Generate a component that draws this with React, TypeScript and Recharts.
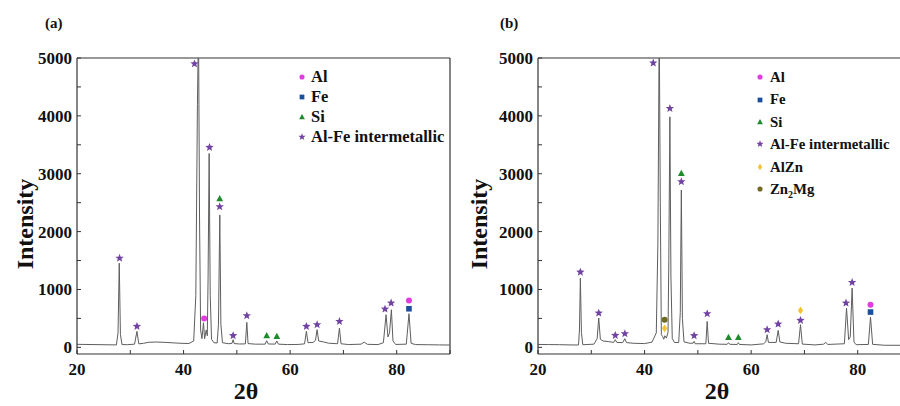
import React from 'react';
import { ComposedChart, Line, Scatter, XAxis, YAxis, ReferenceLine, Legend } from 'recharts';

// ---------- data ----------
const xTicks = [20, 30, 40, 50, 60, 70, 80, 90];
const yTicks = [0, 500, 1000, 1500, 2000, 2500, 3000, 3500, 4000, 4500, 5000];

const patternA_2theta = [20, 21.5, 23, 24.5, 26, 27.4, 27.7, 27.93, 28.15, 28.45, 29.5, 30.8, 31.25, 31.6, 32.5, 33.5, 35, 36.5, 38, 39.5, 41, 41.9, 42.3, 42.6, 42.8, 43.0, 43.2, 43.45, 43.74, 43.95, 44.25, 44.45, 44.6, 44.8, 45.0, 45.25, 45.7, 46.3, 46.55, 46.8, 47.0, 47.3, 48.5, 49.1, 49.3, 49.5, 50.5, 51.6, 51.87, 52.1, 53.5, 55.3, 55.6, 55.9, 57.2, 57.5, 57.8, 59.5, 61.5, 62.7, 63.05, 63.35, 64.3, 64.75, 65.06, 65.35, 66.2, 67.2, 68.9, 69.25, 69.55, 71, 73.3, 73.9, 74.5, 76.5, 77.5, 78.0, 78.35, 78.65, 79.0, 79.3, 79.8, 81.8, 82.3, 82.7, 83.5, 86, 88, 90];
const patternA_intensity = [52, 50, 48, 46, 44, 42, 250, 1455, 220, 48, 46, 55, 276, 60, 70, 88, 92, 86, 78, 70, 66, 110, 900, 4200, 5600, 2200, 300, 150, 425, 150, 300, 200, 1200, 3350, 900, 140, 80, 75, 400, 2288, 400, 80, 62, 70, 133, 65, 58, 60, 431, 65, 55, 55, 115, 58, 56, 110, 55, 48, 50, 60, 276, 80, 85, 120, 305, 110, 95, 72, 62, 334, 62, 48, 55, 90, 52, 48, 80, 564, 180, 250, 650, 110, 50, 55, 581, 70, 48, 45, 42, 40];

const patternB_2theta = [20, 22, 24, 26, 27.6, 27.78, 27.95, 28.15, 28.4, 30.5, 31.1, 31.4, 31.7, 32.2, 33.2, 34.2, 34.5, 34.8, 35.9, 36.3, 36.6, 38, 40, 41.4, 42.2, 42.5, 42.75, 42.95, 43.15, 43.4, 43.6, 43.8, 44.1, 44.4, 44.55, 44.75, 44.95, 45.2, 45.6, 46.4, 46.7, 46.9, 47.1, 47.4, 48.5, 49.1, 49.3, 49.5, 51.5, 51.75, 52.0, 54, 55.5, 55.75, 56.0, 57.4, 57.6, 57.8, 60, 62.3, 62.75, 63.0, 63.25, 64.7, 65.07, 65.4, 66.5, 68.9, 69.26, 69.6, 72, 73.6, 74.0, 74.4, 77.5, 77.9, 78.3, 78.6, 78.95, 79.3, 79.7, 82.0, 82.4, 82.8, 85, 90];
const patternB_intensity = [50, 48, 46, 42, 40, 300, 1197, 260, 45, 55, 150, 507, 140, 110, 100, 85, 133, 85, 82, 150, 82, 70, 65, 90, 250, 1800, 5600, 2500, 220, 185, 140, 200, 160, 260, 1500, 3983, 1200, 150, 85, 82, 600, 2719, 500, 95, 70, 72, 103, 62, 62, 448, 70, 55, 52, 81, 52, 50, 81, 50, 42, 60, 95, 219, 85, 85, 293, 92, 70, 62, 391, 56, 42, 55, 85, 50, 62, 680, 133, 180, 1024, 92, 46, 50, 524, 52, 36, 35];

// marker positions [2theta, intensity]
const alA: [number, number][] = [[43.87, 500], [82.3, 810]];
const feA: [number, number][] = [[82.3, 667]];
const siA: [number, number][] = [[46.78, 2569], [55.6, 202], [57.5, 190]];
const alFeA: [number, number][] = [[27.99, 1541], [31.25, 362], [42.05, 4900], [44.87, 3455], [46.78, 2431], [49.3, 202], [51.87, 547], [63.05, 362], [65.06, 391], [69.25, 448], [77.8, 662], [78.95, 766]];

const alB: [number, number][] = [[82.4, 736]];
const feB: [number, number][] = [[82.4, 610]];
const siB: [number, number][] = [[46.9, 3007], [55.75, 172], [57.6, 172]];
const alFeB: [number, number][] = [[27.95, 1300], [31.4, 593], [34.5, 207], [36.3, 236], [41.63, 4914], [44.75, 4128], [46.9, 2862], [49.3, 202], [51.75, 581], [63.0, 305], [65.07, 403], [69.26, 466], [77.8, 766], [78.95, 1121]];
const alZnB: [number, number][] = [[43.76, 328], [69.26, 638]];
const zn2MgB: [number, number][] = [[43.76, 478]];

const legendA = ['Al', 'Fe', 'Si', 'Al-Fe intermetallic'];
const legendB = ['Al', 'Fe', 'Si', 'Al-Fe intermetallic', 'AlZn', 'Zn2Mg'];

// ---------- styles ----------
const FONT = "'Liberation Serif','Times New Roman',Times,serif";
type Kind = 'circle' | 'square' | 'triangle' | 'star' | 'diamond';
const phaseStyle: Record<string, { kind: Kind; color: string }> = {
  Al: { kind: 'circle', color: '#e23ce0' },
  Fe: { kind: 'square', color: '#1b4f9e' },
  Si: { kind: 'triangle', color: '#1f8a2c' },
  'Al-Fe intermetallic': { kind: 'star', color: '#7042a2' },
  AlZn: { kind: 'diamond', color: '#f2c234' },
  Zn2Mg: { kind: 'circle', color: '#6f6b22' },
};

const toPts = (xs: number[], ys: number[]) => xs.map((x, i) => ({ x, y: ys[i] }));
const toPairs = (a: [number, number][]) => a.map(([x, y]) => ({ x, y }));

function starPath(cx: number, cy: number, R: number, r: number) {
  let d = '';
  for (let i = 0; i < 10; i++) {
    const a = -Math.PI / 2 + (i * Math.PI) / 5;
    const rad = i % 2 === 0 ? R : r;
    d += (i ? 'L' : 'M') + (cx + rad * Math.cos(a)).toFixed(2) + ',' + (cy + rad * Math.sin(a)).toFixed(2);
  }
  return d + 'Z';
}

function Marker({ kind, color, cx, cy, s = 1 }: { kind: Kind; color: string; cx: number; cy: number; s?: number }) {
  switch (kind) {
    case 'circle':
      return <circle cx={cx} cy={cy} r={3 * s} fill={color} />;
    case 'square':
      return <rect x={cx - 2.8 * s} y={cy - 2.8 * s} width={5.6 * s} height={5.6 * s} fill={color} />;
    case 'triangle':
      return <path d={`M${cx},${cy - 3.6 * s}L${cx + 3.4 * s},${cy + 2.6 * s}L${cx - 3.4 * s},${cy + 2.6 * s}Z`} fill={color} />;
    case 'diamond':
      return <path d={`M${cx},${cy - 3.8 * s}L${cx + 2.6 * s},${cy}L${cx},${cy + 3.8 * s}L${cx - 2.6 * s},${cy}Z`} fill={color} />;
    default:
      return <path d={starPath(cx, cy, 4.4 * s, 1.9 * s)} fill={color} />;
  }
}

function LegendBox({ items, rowH, gap, fontSize }: { items: string[]; rowH: number; gap: number; fontSize: number }) {
  return (
    <div style={{ fontFamily: FONT, fontWeight: 'bold', fontSize, color: '#111' }}>
      {items.map((it) => {
        const st = phaseStyle[it];
        return (
          <div key={it} style={{ display: 'flex', alignItems: 'center', height: rowH, whiteSpace: 'nowrap' }}>
            <svg width={12} height={12} style={{ marginRight: gap, flex: 'none' }}>
              <Marker kind={st.kind} color={st.color} cx={6} cy={6} s={0.85} />
            </svg>
            <span style={{ lineHeight: rowH + 'px' }}>
              {it === 'Zn2Mg' ? (
                <>
                  Zn<sub style={{ fontSize: 10, lineHeight: 0 }}>2</sub>Mg
                </>
              ) : (
                it
              )}
            </span>
          </div>
        );
      })}
    </div>
  );
}

const XTick = (p: any) => {
  const v = p.payload.value;
  const label = v % 20 === 0 && v < 90 ? String(v) : '';
  return (
    <text x={p.x} y={p.y} dy="0.72em" textAnchor="middle" fontFamily={FONT} fontWeight="bold" fontSize={17} fill="#111">
      {label}
    </text>
  );
};

const YTick = (p: any) => {
  const v = p.payload.value;
  const label = v % 1000 === 0 ? String(v) : '';
  return (
    <text x={p.x} y={p.y} dy="0.35em" textAnchor="end" fontFamily={FONT} fontWeight="bold" fontSize={17} fill="#111">
      {label}
    </text>
  );
};

type Series = { name: string; data: [number, number][] };

function Panel(props: {
  width: number;
  yAxisWidth: number;
  rightMargin: number;
  line: { x: number; y: number }[];
  series: Series[];
  legendItems: string[];
  legendLeft: number;
  legendTop: number;
  legendRow: number;
  legendGap: number;
  legendFont: number;
  letter: string;
  letterX: number;
  yTitleX: number;
  xTitleX: number;
}) {
  return (
    <ComposedChart
      width={props.width}
      height={406}
      margin={{ top: 58, right: props.rightMargin, bottom: 0, left: 0 }}
    >
      <XAxis
        type="number"
        dataKey="x"
        domain={[20, 90]}
        allowDataOverflow
        ticks={xTicks}
        interval={0}
        height={52}
        tickSize={-4}
        tickMargin={13}
        tick={<XTick />}
        axisLine={{ stroke: '#333', strokeWidth: 1.2 }}
        tickLine={{ stroke: '#333' }}
        label={{
          content: () => (
            <text x={props.xTitleX} y={399} textAnchor="middle" fontFamily={FONT} fontWeight="bold" fontSize={24} fill="#111">
              2θ
            </text>
          ),
        }}
      />
      <YAxis
        type="number"
        dataKey="y"
        domain={[-115, 5000]}
        allowDataOverflow
        ticks={yTicks}
        interval={0}
        width={props.yAxisWidth}
        tickSize={-4}
        tickMargin={9}
        tick={<YTick />}
        axisLine={{ stroke: '#333', strokeWidth: 1.2 }}
        tickLine={{ stroke: '#333' }}
        label={{
          content: () => (
            <g>
              <text
                x={props.yTitleX}
                y={224}
                transform={`rotate(-90 ${props.yTitleX} 224)`}
                textAnchor="middle"
                fontFamily={FONT}
                fontWeight="bold"
                fontSize={24}
                fill="#111"
              >
                Intensity
              </text>
              <text x={props.letterX} y={28} fontFamily={FONT} fontWeight="bold" fontSize={15} fill="#111">
                {props.letter}
              </text>
            </g>
          ),
        }}
      />
      <ReferenceLine y={5000} stroke="#333" strokeWidth={1.2} />
      <ReferenceLine x={90} stroke="#333" strokeWidth={1.2} />
      <Line
        data={props.line}
        dataKey="y"
        type="linear"
        stroke="#5e5e5e"
        strokeWidth={1}
        dot={false}
        activeDot={false}
        isAnimationActive={false}
        legendType="none"
      />
      {props.series.map((s) => {
        const st = phaseStyle[s.name];
        return (
          <Scatter
            key={s.name}
            name={s.name}
            data={toPairs(s.data)}
            dataKey="y"
            isAnimationActive={false}
            shape={(p: any) => <Marker kind={st.kind} color={st.color} cx={p.cx} cy={p.cy} />}
          />
        );
      })}
      <Legend
        layout="vertical"
        align="center"
        verticalAlign="middle"
        wrapperStyle={{ left: props.legendLeft, top: props.legendTop, width: 'auto', height: 'auto' }}
        content={() => (
          <LegendBox items={props.legendItems} rowH={props.legendRow} gap={props.legendGap} fontSize={props.legendFont} />
        )}
      />
    </ComposedChart>
  );
}

export default function App() {
  return (
    <div style={{ position: 'fixed', left: 0, top: 0, width: 900, height: 406, overflow: 'hidden', background: '#fff' }}>
      <div style={{ position: 'absolute', left: 0, top: 0 }}>
        <Panel
          width={470}
          yAxisWidth={77}
          rightMargin={20}
          line={toPts(patternA_2theta, patternA_intensity)}
          series={[
            { name: 'Al', data: alA },
            { name: 'Fe', data: feA },
            { name: 'Si', data: siA },
            { name: 'Al-Fe intermetallic', data: alFeA },
          ]}
          legendItems={legendA}
          legendLeft={296}
          legendTop={67}
          legendRow={20}
          legendGap={3}
          legendFont={16.5}
          letter="(a)"
          letterX={45}
          yTitleX={33}
          xTitleX={246}
        />
      </div>
      <div style={{ position: 'absolute', left: 450, top: 0 }}>
        <Panel
          width={480}
          yAxisWidth={88}
          rightMargin={19}
          line={toPts(patternB_2theta, patternB_intensity)}
          series={[
            { name: 'Al', data: alB },
            { name: 'Fe', data: feB },
            { name: 'Si', data: siB },
            { name: 'Al-Fe intermetallic', data: alFeB },
            { name: 'AlZn', data: alZnB },
            { name: 'Zn2Mg', data: zn2MgB },
          ]}
          legendItems={legendB}
          legendLeft={304}
          legendTop={66}
          legendRow={22.4}
          legendGap={4}
          legendFont={14.8}
          letter="(b)"
          letterX={50}
          yTitleX={37}
          xTitleX={267}
        />
      </div>
    </div>
  );
}
